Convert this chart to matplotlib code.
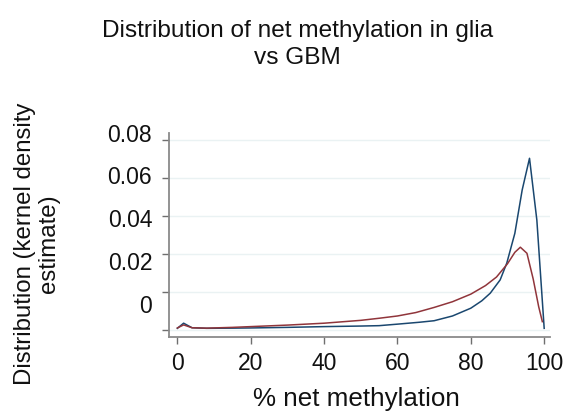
import numpy as np
import matplotlib
matplotlib.use("Agg")
import matplotlib.pyplot as plt

plt.rcParams['font.family'] = ['Liberation Sans', 'DejaVu Sans']

# kernel density estimates of % net methylation
glia_x = [0, 1.7, 4, 8, 15, 20, 30, 40, 50, 55, 60, 66, 70, 75, 80, 83,
          85.3, 88, 89.8, 92, 94, 96, 98, 100]
glia_y = [0.0010, 0.0037, 0.0013, 0.0010, 0.0011, 0.0012, 0.0015, 0.0019,
          0.0022, 0.0024, 0.0032, 0.0042, 0.0050, 0.0075, 0.0116, 0.0155,
          0.0195, 0.0265, 0.0353, 0.0510, 0.0738, 0.0905, 0.0580, 0.0010]

gbm_x = [0, 1.7, 4, 8, 15, 20, 30, 40, 50, 55, 60, 65, 70, 75, 80, 84,
         87, 90, 92, 93.5, 95.3, 97, 98.5, 99.5]
gbm_y = [0.0012, 0.0028, 0.0013, 0.0011, 0.0015, 0.0019, 0.0027, 0.0037,
         0.0052, 0.0063, 0.0075, 0.0093, 0.0120, 0.0150, 0.0190, 0.0235,
         0.0280, 0.0350, 0.0410, 0.0437, 0.0405, 0.0270, 0.0124, 0.0045]

x_ticks = [0, 20, 40, 60, 80, 100]
y_ticks = [0, 0.02, 0.04, 0.06, 0.08, 0.10]
y_labels = ['0.08', '0.06', '0.04', '0.02', '0']

fig = plt.figure(figsize=(5.63, 4.17), dpi=100, facecolor='white')
ax = fig.add_axes([0.3007, 0.1926, 0.6763, 0.4884])

ax.plot(glia_x, glia_y, color='#1a476f', lw=1.1)
ax.plot(gbm_x, gbm_y, color='#90353b', lw=1.1)

ax.set_xlim(-2.2, 101.6)
ax.set_ylim(-0.0034, 0.1038)

ax.set_xticks(x_ticks)
ax.set_xticklabels([str(v) for v in x_ticks], fontsize=16.5, color='#111111')
ax.set_yticks(y_ticks)
ax.set_yticklabels([''] * len(y_ticks))
ax.grid(axis='y', color='#eaf2f3', lw=1.0)
ax.set_axisbelow(True)

for s in ['top', 'right']:
    ax.spines[s].set_visible(False)
for s in ['left', 'bottom']:
    ax.spines[s].set_color('#8a8a8a')
    ax.spines[s].set_linewidth(1.3)
ax.tick_params(axis='both', color='#6f6f6f', length=5, width=1.0)
ax.tick_params(axis='x', pad=6)

# y labels sit on their own spacing next to the axis
for i, lab in enumerate(y_labels):
    ax.text(-0.045, 0.990 - i * 0.2108, lab, transform=ax.transAxes,
            ha='right', va='center', fontsize=16.5, color='#111111')

fig.text(0.529, 0.893, 'Distribution of net methylation in glia\nvs GBM',
         ha='center', va='center', fontsize=17.6, color='#111111',
         linespacing=1.3)
fig.text(0.066, 0.415, 'Distribution (kernel density\nestimate)',
         rotation=90, ha='center', va='center', fontsize=17.3,
         color='#111111', linespacing=1.15)
fig.text(0.633, 0.043, '% net methylation', ha='center', va='center',
         fontsize=18.7, color='#111111')

fig.savefig('out.png', dpi=100, facecolor='white')
